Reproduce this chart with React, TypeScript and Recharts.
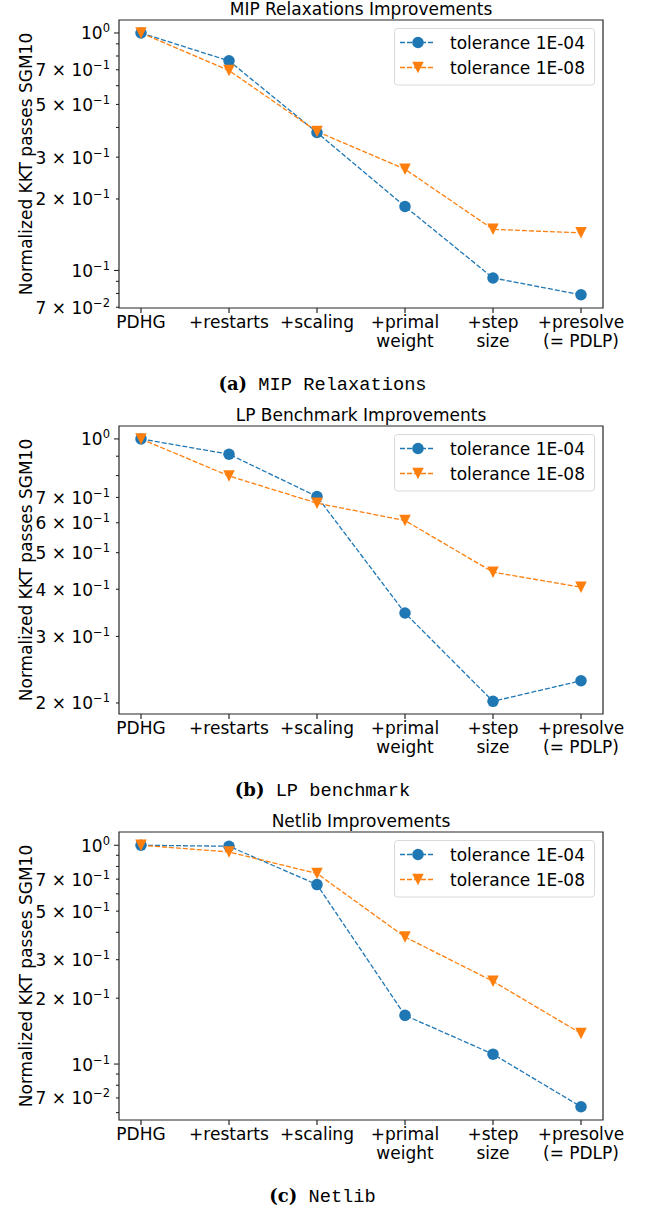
import React from "react";
import { LineChart, Line, XAxis, YAxis, ReferenceArea, Legend } from "recharts";

// x categories (two-line labels)
const CATEGORIES: string[][] = [
  ["PDHG"],
  ["+restarts"],
  ["+scaling"],
  ["+primal", "weight"],
  ["+step", "size"],
  ["+presolve", "(= PDLP)"],
];

// (a) MIP Relaxations
const MIP_TOL4 = [1.0, 0.763, 0.381, 0.186, 0.093, 0.079];
const MIP_TOL8 = [1.0, 0.695, 0.385, 0.267, 0.149, 0.144];
const MIP_TICKS = [1, 0.9, 0.8, 0.7, 0.6, 0.5, 0.4, 0.3, 0.2, 0.1, 0.09, 0.08, 0.07];
const MIP_LABELED = [1, 0.7, 0.5, 0.3, 0.2, 0.1, 0.07];

// (b) LP benchmark
const LP_TOL4 = [1.0, 0.911, 0.704, 0.346, 0.202, 0.229];
const LP_TOL8 = [1.0, 0.798, 0.676, 0.608, 0.444, 0.405];
const LP_TICKS = [1, 0.9, 0.8, 0.7, 0.6, 0.5, 0.4, 0.3, 0.2];
const LP_LABELED = [1, 0.7, 0.6, 0.5, 0.4, 0.3, 0.2];

// (c) Netlib
const NETLIB_TOL4 = [1.0, 0.99, 0.661, 0.167, 0.111, 0.0638];
const NETLIB_TOL8 = [1.0, 0.932, 0.743, 0.381, 0.239, 0.138];
const NETLIB_TICKS = [1, 0.9, 0.8, 0.7, 0.6, 0.5, 0.4, 0.3, 0.2, 0.1, 0.09, 0.08, 0.07, 0.06];
const NETLIB_LABELED = [1, 0.7, 0.5, 0.3, 0.2, 0.1, 0.07];

const SERIES = [
  { key: "tol4", name: "tolerance 1E-04", color: "#1f77b4", marker: "circle" },
  { key: "tol8", name: "tolerance 1E-08", color: "#ff7f0e", marker: "triangle" },
];

const FONT = "'DejaVu Sans', sans-serif";
const FRAME = "#262626";
const MS = 11.5;

function Marker({ cx, cy, color, kind }: { cx: number; cy: number; color: string; kind: string }) {
  if (cx == null || cy == null) return null;
  const h = MS / 2;
  if (kind === "triangle") {
    return <path d={`M${cx - h},${cy - h}L${cx + h},${cy - h}L${cx},${cy + h}Z`} fill={color} />;
  }
  return <circle cx={cx} cy={cy} r={h} fill={color} />;
}

function XTick(props: any) {
  const { x, y, payload } = props;
  const lines = CATEGORIES[payload.value] || [];
  return (
    <g>
      <line x1={x} x2={x} y1={y} y2={y + 5} stroke={FRAME} strokeWidth={1.2} />
      {lines.map((l, i) => (
        <text key={i} x={x} y={y + 14 + i * 19} textAnchor="middle" dominantBaseline="central" fontFamily={FONT} fontSize={17} fill="#000">
          {l}
        </text>
      ))}
    </g>
  );
}

function makeYTick(labeled: number[]) {
  return function YTick(props: any) {
    const { x, y, payload } = props;
    const v: number = payload.value;
    const exp = Math.floor(Math.log10(v) + 1e-9);
    const mant = Math.round(v / Math.pow(10, exp));
    const major = mant === 1;
    const show = labeled.some((l) => Math.abs(l - v) < 1e-9);
    const sup = exp === 0 ? "0" : "\u2212" + String(-exp);
    return (
      <g>
        <line x1={x - (major ? 5 : 3)} x2={x} y1={y} y2={y} stroke={FRAME} strokeWidth={1.1} />
        {show && (
          <text x={x - 9} y={y + 6.5} textAnchor="end" fontFamily={FONT} fontSize={17} fill="#000">
            {major ? "10" : `${mant} \u00d7 10`}
            <tspan dy={-7} fontSize={11.5}>{sup}</tspan>
          </text>
        )}
      </g>
    );
  };
}

function LegendBox() {
  return (
    <svg width={201} height={58} style={{ display: "block" }}>
      <rect x={0.5} y={0.5} width={200} height={56.5} rx={3} fill="#fff" fillOpacity={0.8} stroke="#d9d9d9" />
      {SERIES.map((s, i) => {
        const cy = 14.5 + i * 25;
        return (
          <g key={s.key}>
            <line x1={6} x2={41} y1={cy} y2={cy} stroke={s.color} strokeWidth={1.3} strokeDasharray="5 2" />
            <Marker cx={24} cy={cy} color={s.color} kind={s.marker} />
            <text x={56} y={cy} dominantBaseline="central" fontFamily={FONT} fontSize={17} fill="#000">
              {s.name}
            </text>
          </g>
        );
      })}
    </svg>
  );
}

function Panel({
  top, title, letter, name, tol4, tol8, domain, ticks, labeled,
}: {
  top: number; title: string; letter: string; name: string;
  tol4: number[]; tol8: number[]; domain: [number, number]; ticks: number[]; labeled: number[];
}) {
  const data = CATEGORIES.map((_, i) => ({ idx: i, tol4: tol4[i], tol8: tol8[i] }));
  const YTick = makeYTick(labeled);
  return (
    <div style={{ position: "absolute", left: 0, top, width: 645, height: 406 }}>
      <div style={{ position: "absolute", left: 119, top: 0, width: 484, height: 18, lineHeight: "18px", textAlign: "center", fontFamily: FONT, fontSize: 17, color: "#000", whiteSpace: "nowrap" }}>
        {title}
      </div>
      <LineChart width={645} height={360} data={data} margin={{ top: 20, right: 42, bottom: 0, left: 0 }}>
        <XAxis
          dataKey="idx" type="number" domain={[-0.25, 5.25]} ticks={[0, 1, 2, 3, 4, 5]} interval={0}
          allowDataOverflow height={52} axisLine={false} tickLine={false} tickSize={0} tickMargin={0} tick={<XTick />}
        />
        <YAxis
          scale="log" domain={domain} ticks={ticks} interval={0} allowDataOverflow width={119}
          axisLine={false} tickLine={false} tickSize={0} tickMargin={0} tick={<YTick />}
          label={(p: any) => {
            const vb = p.viewBox || { y: 20, height: 288 };
            const cy = vb.y + vb.height / 2;
            return (
              <text x={26} y={cy} transform={`rotate(-90, 26, ${cy})`} textAnchor="middle" dominantBaseline="central" fontFamily={FONT} fontSize={17} fill="#000">
                Normalized KKT passes SGM10
              </text>
            );
          }}
        />
        <ReferenceArea x1={-0.25} x2={5.25} y1={domain[0]} y2={domain[1]} fill="none" stroke={FRAME} strokeWidth={1.2} ifOverflow="visible" />
        {SERIES.map((s) => (
          <Line
            key={s.key}
            dataKey={s.key}
            name={s.name}
            stroke={s.color}
            strokeWidth={1.3}
            strokeDasharray="5 2"
            isAnimationActive={false}
            activeDot={false}
            dot={(p: any) => <Marker key={`${s.key}-${p.index}`} cx={p.cx} cy={p.cy} color={s.color} kind={s.marker} />}
          />
        ))}
        <Legend
          layout="vertical" align="center" verticalAlign="middle"
          wrapperStyle={{ left: 394, top: 28, width: 201, height: 58 }}
          content={() => <LegendBox />}
        />
      </LineChart>
      <div style={{ position: "absolute", left: 0, top: 372, width: 645, height: 24, lineHeight: "24px", textAlign: "center", color: "#000", whiteSpace: "nowrap" }}>
        <span style={{ fontFamily: "'DejaVu Serif', serif", fontWeight: "bold", fontSize: 18 }}>{letter}</span>
        <span style={{ fontFamily: "'Liberation Mono', monospace", fontSize: 18.7 }}> {name}</span>
      </div>
    </div>
  );
}

export default function App() {
  return (
    <div style={{ position: "absolute", left: 0, top: 0, width: 645, height: 1209, background: "#fff" }}>
      <Panel top={0} title="MIP Relaxations Improvements" letter="(a)" name="MIP Relaxations"
        tol4={MIP_TOL4} tol8={MIP_TOL8} domain={[0.0695, 1.134]} ticks={MIP_TICKS} labeled={MIP_LABELED} />
      <Panel top={406} title="LP Benchmark Improvements" letter="(b)" name="LP benchmark"
        tol4={LP_TOL4} tol8={LP_TOL8} domain={[0.187, 1.082]} ticks={LP_TICKS} labeled={LP_LABELED} />
      <Panel top={812} title="Netlib Improvements" letter="(c)" name="Netlib"
        tol4={NETLIB_TOL4} tol8={NETLIB_TOL8} domain={[0.0555, 1.15]} ticks={NETLIB_TICKS} labeled={NETLIB_LABELED} />
    </div>
  );
}
